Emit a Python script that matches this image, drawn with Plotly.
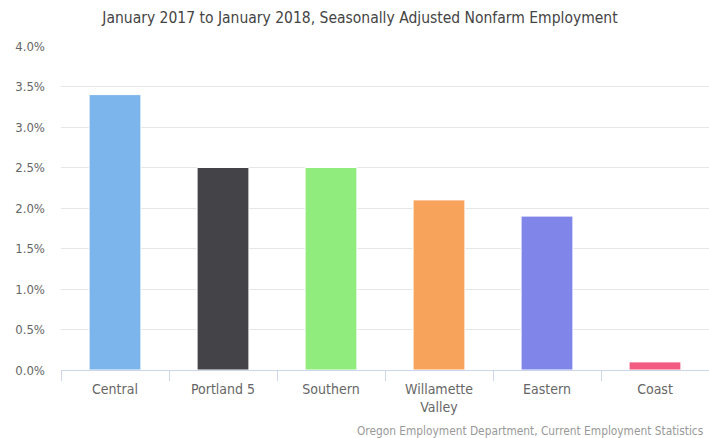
import plotly.graph_objects as go

categories = ["Central", "Portland 5", "Southern", "Willamette<br>Valley", "Eastern", "Coast"]
values = [3.4, 2.5, 2.5, 2.1, 1.9, 0.1]
colors = ["#7cb5ec", "#434348", "#90ed7d", "#f7a35c", "#8085e9", "#f15c80"]
y_ticks = [0, 0.5, 1.0, 1.5, 2.0, 2.5, 3.0, 3.5, 4.0]
y_tick_labels = [f"{v:.1f}%" for v in y_ticks]

FONT = "DejaVu Sans Condensed"

fig = go.Figure(go.Bar(
    x=categories, y=values,
    marker=dict(color=colors, line=dict(color="white", width=1)),
    hovertemplate="%{x}: %{y:.1f}%<extra></extra>",
))

fig.update_layout(
    width=709, height=438,
    margin=dict(l=61, r=0, t=46, b=68, autoexpand=False),
    paper_bgcolor="white", plot_bgcolor="white",
    font=dict(family=FONT, color="#666666", size=13),
    title=dict(text="January 2017 to January 2018, Seasonally Adjusted Nonfarm Employment",
               x=360/709, xanchor="center", y=1 - 18/438, yanchor="middle",
               font=dict(family=FONT, size=15.5, color="#444444")),
    bargap=0.52,
    showlegend=False,
)
fig.update_xaxes(
    type="category", tickson="boundaries", ticks="outside", ticklen=10,
    tickcolor="#ccd6eb", showline=True, linecolor="#ccd6eb", linewidth=1,
    showgrid=False, tickfont=dict(size=14, color="#666666"), automargin=False,
    ticklabelstandoff=6,
)
fig.update_yaxes(
    range=[0, 4.0], tickvals=y_ticks, ticktext=y_tick_labels,
    showgrid=True, gridcolor="#e6e6e6", gridwidth=1, zeroline=False,
    showline=False, ticks="", ticklabelstandoff=15, automargin=False,
    tickfont=dict(size=13, color="#666666"),
)
fig.add_annotation(
    text="Oregon Employment Department, Current Employment Statistics",
    xref="paper", yref="paper", x=1, y=-(431-370)/324, xanchor="right", yanchor="middle",
    xshift=-3, showarrow=False, font=dict(family=FONT, size=11.8, color="#999999"),
)
fig.write_html("out.html", config={"displayModeBar": False},
               post_script="document.body.style.margin='0';")
